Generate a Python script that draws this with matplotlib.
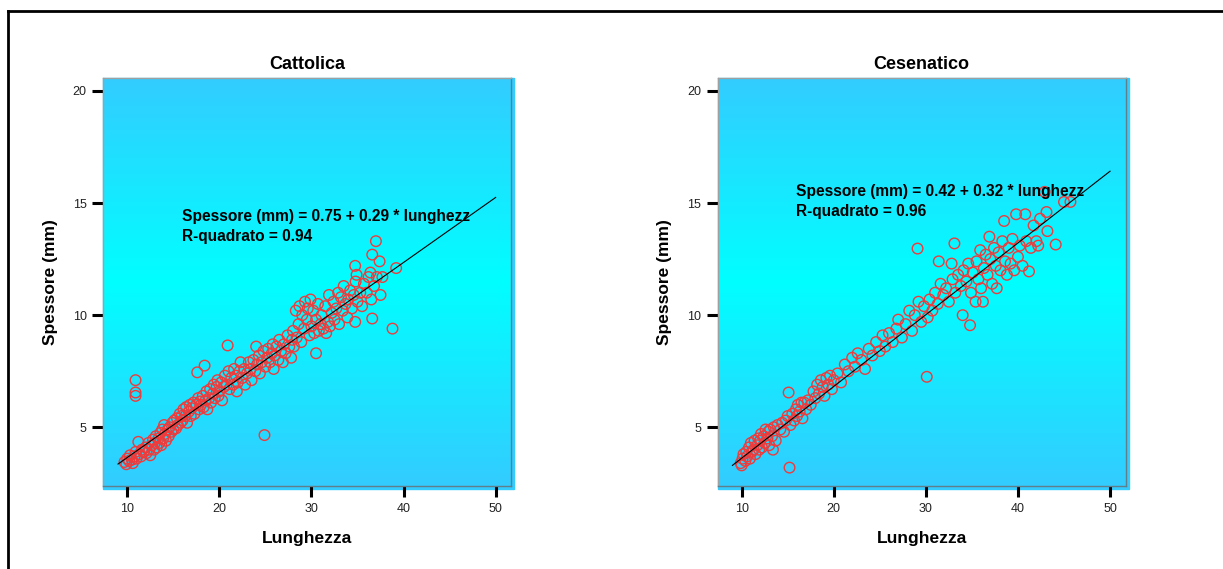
import numpy as np
import matplotlib
matplotlib.use("Agg")
from matplotlib import pyplot as plt
from matplotlib.colors import LinearSegmentedColormap
from matplotlib.patches import Rectangle

plt.rcParams['font.family'] = ['Liberation Sans', 'DejaVu Sans']

# Cattolica: lunghezza / spessore
catt_x = [9.7, 9.9, 10.0, 10.2, 10.3, 10.5, 10.6, 10.8, 10.9, 11.0, 11.2, 11.3, 11.5, 11.6, 11.8, 10.9, 10.9, 10.9,
          12.0, 12.1, 12.3, 12.4, 12.5, 12.7, 12.8, 12.9, 13.0, 13.1, 13.2, 13.4, 13.5, 13.6, 13.7, 13.8, 13.9,
          14.0, 14.1, 14.2, 14.4, 14.5, 14.6, 14.8, 14.9, 15.0, 15.1, 15.3, 15.4, 15.5, 15.7, 15.8, 15.9,
          16.0, 16.1, 16.3, 16.4, 16.5, 16.7, 16.8, 16.9, 17.0, 17.2, 17.3, 17.5, 17.6, 17.7, 17.8, 17.9,
          18.0, 18.2, 18.3, 18.4, 18.5, 18.6, 18.7, 18.9, 19.0, 19.1, 19.3, 19.4, 19.5, 19.7, 19.8, 19.9,
          20.0, 20.2, 20.3, 20.5, 20.6, 20.8, 20.9, 21.0, 21.1, 21.3, 21.5, 21.6, 21.8, 21.9,
          22.0, 22.2, 22.3, 22.5, 22.7, 22.8, 23.0, 23.2, 23.4, 23.5, 23.7, 23.9, 24.0,
          24.1, 24.3, 24.4, 24.6, 24.8, 24.9, 25.0, 25.2, 25.3, 25.5, 25.7, 25.8, 25.9,
          26.0, 26.2, 26.4, 26.5, 26.7, 26.9, 27.0, 27.2, 27.4, 27.6, 27.8, 27.9,
          28.0, 28.1, 28.3, 28.4, 28.6, 28.7, 28.9, 29.0, 29.2, 29.3, 29.5, 29.6, 29.8, 29.9,
          30.0, 30.2, 30.3, 30.5, 30.5, 30.7, 30.8, 31.0, 31.1, 31.3, 31.5, 31.6, 31.8, 31.9,
          32.0, 32.2, 32.4, 32.5, 32.7, 32.9, 33.0, 33.2, 33.4, 33.5, 33.7, 33.9,
          34.0, 34.2, 34.4, 34.6, 34.75, 34.75, 34.8, 34.9, 35.0, 35.3, 35.5, 35.7,
          36.0, 36.2, 36.4, 36.5, 36.6, 36.6, 36.8, 37.0, 37.1, 37.4, 37.5, 37.7, 38.8, 39.2]
catt_y = [3.45, 3.35, 3.6, 3.5, 3.75, 3.55, 3.4, 3.7, 3.9, 3.6, 4.35, 3.8, 3.7, 4.0, 3.9, 7.1, 6.55, 6.4,
          4.1, 3.85, 4.3, 4.0, 3.75, 4.2, 4.45, 4.0, 4.3, 4.6, 4.1, 4.5, 4.3, 4.75, 4.2, 4.9, 4.5,
          5.1, 4.7, 4.4, 4.9, 4.6, 5.0, 4.8, 5.2, 4.9, 5.3, 4.95, 5.4, 5.1, 5.6, 5.2, 5.5,
          5.3, 5.8, 5.5, 5.9, 5.2, 5.7, 6.0, 5.5, 5.85, 6.1, 5.6, 6.0, 7.45, 6.3, 5.8, 6.15,
          6.0, 6.4, 5.9, 7.75, 6.2, 6.6, 5.8, 6.3, 6.7, 6.1, 6.5, 6.9, 6.3, 6.8, 7.1, 6.4,
          6.6, 7.0, 6.2, 6.8, 7.3, 6.9, 8.65, 7.5, 6.7, 7.2, 6.9, 7.6, 7.3, 6.6,
          7.0, 7.5, 7.9, 7.2, 7.6, 6.9, 7.4, 7.9, 7.6, 7.1, 8.0, 7.5, 8.6,
          7.8, 8.2, 7.4, 7.9, 8.4, 4.65, 7.7, 8.1, 8.5, 7.9, 8.3, 8.7, 7.6,
          8.2, 8.6, 8.0, 8.9, 8.4, 7.9, 8.7, 8.3, 9.1, 8.6, 8.1, 8.9,
          9.3, 8.6, 10.2, 9.0, 9.6, 10.4, 8.8, 10.0, 9.4, 10.6, 9.8, 10.3, 9.1, 10.7,
          9.5, 10.2, 9.2, 8.3, 9.8, 10.5, 9.3, 9.6, 10.0, 9.4, 10.4, 9.2, 9.7, 10.9,
          9.5, 10.1, 10.6, 9.8, 10.3, 11.0, 9.6, 10.8, 10.2, 11.3, 10.5, 9.9,
          10.7, 11.1, 10.3, 10.9, 9.7, 12.2, 11.5, 11.8, 10.6, 11.0, 10.4, 11.4,
          11.0, 11.7, 11.9, 10.7, 9.85, 12.7, 11.3, 13.3, 11.7, 12.4, 10.9, 11.7, 9.4, 12.1]

# Cesenatico
ces_x = [9.9, 10.0, 10.1, 10.2, 10.4, 10.5, 10.6, 10.8, 10.9, 11.0, 11.1, 11.3, 11.4, 11.5, 11.7, 11.8, 11.9,
         12.0, 12.1, 12.2, 12.4, 12.5, 12.6, 12.8, 12.9, 13.0, 13.1, 13.3, 13.4, 13.5, 13.7, 13.9,
         14.2, 14.4, 14.6, 14.8, 15.0, 15.1, 15.2, 15.3, 15.5, 15.7, 15.9, 16.0, 16.1, 16.3, 16.5, 16.6, 16.8, 17.0,
         17.2, 17.5, 17.8, 18.0, 18.2, 18.4, 18.6, 18.8, 19.0, 19.2, 19.4, 19.6, 19.8, 20.0,
         20.4, 20.8, 21.2, 21.6, 22.0, 22.3, 22.6, 23.0, 23.4, 23.8, 24.2, 24.6, 25.0,
         25.3, 25.6, 26.0, 26.4, 26.8, 27.0, 27.4, 27.8, 28.2, 28.5, 28.8, 29.1, 29.2, 29.5, 29.8, 30.1, 30.2,
         30.4, 30.7, 31.0, 31.3, 31.4, 31.6, 31.9, 32.2, 32.5, 32.8, 32.9, 33.1, 33.2, 33.5, 33.8, 34.0, 34.1,
         34.4, 34.6, 34.8, 34.9,
         35.1, 35.4, 35.5, 35.7, 35.9, 36.0, 36.2, 36.3, 36.5, 36.7, 36.9, 37.0, 37.2, 37.4, 37.6, 37.7, 37.9,
         38.1, 38.3, 38.5, 38.6, 38.8, 39.0, 39.2, 39.4, 39.6, 39.8,
         40.0, 40.2, 40.5, 40.8, 40.9, 41.2, 41.4, 41.7, 42.0, 42.2, 42.4, 42.9, 43.1, 43.2, 44.1, 45.0, 45.7]
ces_y = [3.4, 3.3, 3.6, 3.8, 3.5, 3.9, 3.7, 4.1, 3.6, 4.3, 3.9, 4.0, 4.4, 3.8, 4.2, 4.5, 4.0,
         4.4, 4.7, 4.1, 4.6, 4.3, 4.9, 4.5, 4.8, 4.2, 4.9, 4.6, 4.0, 5.0, 4.4, 5.1,
         4.9, 5.2, 4.8, 5.3, 5.5, 6.55, 3.2, 5.1, 5.6, 5.3, 5.8, 5.5, 6.0, 5.7, 6.1, 5.4, 6.1, 5.8,
         6.2, 6.0, 6.6, 6.3, 6.9, 6.5, 7.1, 6.8, 6.4, 7.2, 6.9, 7.3, 6.7, 7.1,
         7.4, 7.0, 7.8, 7.5, 8.1, 7.7, 8.3, 8.0, 7.6, 8.5, 8.2, 8.8, 8.4,
         9.1, 8.6, 9.2, 8.8, 9.4, 9.8, 9.0, 9.6, 10.2, 9.3, 10.0, 12.97, 10.6, 9.7, 10.4, 7.25, 9.9,
         10.7, 10.2, 11.0, 10.5, 12.4, 11.4, 10.9, 11.2, 10.6, 12.3, 11.6, 13.2, 11.0, 11.8, 11.3, 10.0, 12.0,
         11.5, 12.3, 9.55, 11.0,
         11.9, 10.6, 12.4, 11.6, 12.9, 11.2, 10.6, 12.1, 12.7, 11.8, 13.5, 12.5, 11.4, 13.0, 12.2, 11.2, 12.8,
         12.0, 13.3, 14.2, 12.4, 11.8, 13.0, 12.3, 13.4, 12.0, 14.5,
         12.6, 13.1, 12.2, 14.5, 13.3, 11.95, 13.0, 14.0, 13.3, 13.1, 14.3, 15.5, 14.6, 13.75, 13.15, 15.05, 15.05]

panels = ['Cattolica', 'Cesenatico']
intercepts = [0.75, 0.42]
slopes = [0.29, 0.32]
r2 = [0.94, 0.96]
xticks = [10, 20, 30, 40, 50]
yticks = [5, 10, 15, 20]

fig = plt.figure(figsize=(12.23, 5.69), dpi=100)
W, H = 1223, 569

# bordo esterno (solo sopra e a sinistra)
fig.add_artist(plt.Line2D([7.5 / W, 7.5 / W], [0, 1 - 10.5 / H], color='black', lw=2, transform=fig.transFigure))
fig.add_artist(plt.Line2D([7.5 / W, 1], [1 - 10.5 / H, 1 - 10.5 / H], color='black', lw=2, transform=fig.transFigure))

grad = LinearSegmentedColormap.from_list('bg', ['#33CCFF', '#00FFFF', '#33CCFF'])

lefts = [103.3, 717.7]
aw, top, bot = 408.0, 77.5, 486.0
data = [(catt_x, catt_y), (ces_x, ces_y)]
text_y = [0.66, 0.72]

for i, name in enumerate(panels):
    l = lefts[i]
    # ombra blu dietro il pannello
    fig.add_artist(Rectangle((l / W, 1 - (bot + 2.5) / H), (aw + 3) / W, (bot + 2.5 - top) / H,
                             transform=fig.transFigure, color='#33CCFF', zorder=0))
    ax = fig.add_axes([l / W, 1 - bot / H, aw / W, (bot - top) / H])
    ax.imshow(np.linspace(0, 1, 256).reshape(-1, 1), cmap=grad, aspect='auto',
              extent=[0, 1, 0, 1], transform=ax.transAxes, zorder=0)
    ax.set_xlim(7.4, 51.7)
    ax.set_ylim(2.38, 20.6)

    x, y = data[i]
    ax.scatter(x, y, s=58, facecolors='none', edgecolors='#EE3B3B', linewidths=1.0, zorder=2)
    lx = np.array([9.0, 50.0])
    ax.plot(lx, intercepts[i] + slopes[i] * lx, color='black', lw=0.8, zorder=3)

    ax.text(0.193, text_y[i], 'Spessore (mm) = %.2f + %.2f * lunghezz' % (intercepts[i], slopes[i]),
            transform=ax.transAxes, fontsize=11.2, fontweight='bold', va='center', zorder=4)
    ax.text(0.193, text_y[i] - 0.049, 'R-quadrato = %.2f' % r2[i],
            transform=ax.transAxes, fontsize=11.2, fontweight='bold', va='center', zorder=4)

    ax.set_xticks(xticks)
    ax.set_yticks(yticks)
    ax.tick_params(direction='out', length=8, width=2.2, labelsize=9, labelcolor='#222222', pad=4)
    for s in ax.spines.values():
        s.set_color('#5f7f8a')
        s.set_linewidth(1.0)
    ax.spines['top'].set_color('#a0a0a0')
    ax.spines['left'].set_color('#a0a0a0')

    ax.set_title(name, fontsize=13, fontweight='bold', pad=6)
    ax.set_xlabel('Lunghezza', fontsize=12.5, fontweight='bold')
    ax.set_ylabel('Spessore (mm)', fontsize=12.5, fontweight='bold')
    ax.xaxis.set_label_coords(0.5, -0.11)
    ax.yaxis.set_label_coords(-0.112, 0.5)

fig.savefig('out.png', dpi=100)
